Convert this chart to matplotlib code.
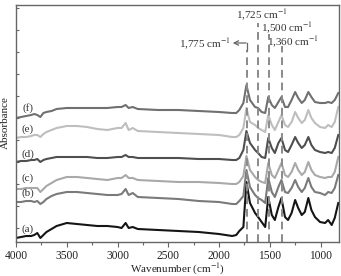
import matplotlib
matplotlib.use("Agg")
import matplotlib.pyplot as plt
from matplotlib.ticker import MultipleLocator, NullFormatter

plt.rcParams['font.family'] = ['Liberation Serif', 'DejaVu Serif']
plt.rcParams['mathtext.fontset'] = 'stix'

wavenumber = [4000, 3950, 3900, 3850, 3820, 3790, 3760, 3730, 3700, 3650,
              3600, 3500, 3400, 3300, 3200, 3100, 3000, 2960, 2920, 2890,
              2850, 2800, 2600, 2400, 2200, 2000, 1870, 1830, 1800, 1760,
              1730, 1695, 1645, 1615, 1580, 1545, 1515, 1480, 1450, 1415,
              1385, 1350, 1320, 1285, 1250, 1220, 1185, 1155, 1120, 1090,
              1055, 1005, 955, 925, 890, 860, 825]

spec_a = [12, 13, 14, 14, 15, 17, 12, 15, 18, 21, 24, 27, 26, 25, 24, 24, 23, 22, 27, 22,
          23, 21, 20, 19, 18, 16, 14, 15, 19, 23, 68, 47, 37, 33, 28, 23, 53, 35, 30, 43,
          52, 33, 30, 37, 50, 42, 35, 38, 52, 40, 33, 28, 27, 30, 25, 32, 47]
spec_b = [48, 48, 49, 49, 48, 49, 46, 48, 51, 54, 56, 58, 58, 57, 56, 55, 55, 56, 61, 55,
          57, 53, 52, 51, 49, 48, 46, 46, 49, 54, 80, 63, 55, 52, 50, 47, 72, 58, 53, 63,
          70, 58, 57, 62, 70, 63, 58, 62, 72, 63, 58, 57, 55, 58, 57, 62, 75]
spec_c = [61, 61, 62, 62, 62, 62, 58, 61, 64, 67, 70, 73, 73, 72, 71, 70, 72, 72, 75, 72,
          72, 70, 69, 68, 68, 67, 66, 66, 68, 74, 94, 80, 73, 70, 68, 67, 87, 75, 72, 80,
          87, 75, 73, 78, 87, 80, 75, 78, 88, 80, 75, 73, 72, 73, 73, 78, 93]
spec_d = [88, 89, 89, 90, 90, 91, 88, 90, 91, 92, 93, 93, 93, 93, 92, 92, 93, 93, 95, 93,
          93, 92, 92, 92, 91, 91, 90, 90, 92, 100, 119, 107, 100, 97, 93, 92, 112, 102, 97, 107,
          112, 100, 98, 105, 113, 107, 102, 105, 113, 105, 100, 98, 97, 98, 97, 102, 115]
spec_e = [112, 113, 113, 114, 115, 115, 113, 116, 118, 120, 122, 124, 124, 123, 121, 120, 122, 122, 127, 120,
          122, 119, 118, 117, 116, 115, 113, 113, 115, 122, 142, 128, 125, 122, 120, 118, 135, 125, 120, 128,
          135, 125, 123, 128, 138, 132, 127, 130, 140, 132, 127, 123, 122, 125, 123, 128, 143]
spec_f = [132, 133, 134, 135, 136, 135, 133, 137, 138, 139, 141, 142, 142, 142, 142, 142, 143, 143, 145, 142,
          143, 141, 140, 140, 139, 138, 137, 137, 140, 147, 165, 150, 143, 142, 138, 137, 153, 145, 142, 148,
          153, 143, 143, 150, 158, 152, 147, 150, 158, 153, 148, 147, 147, 148, 147, 150, 157]

series_labels = ['(a)', '(b)', '(c)', '(d)', '(e)', '(f)']
label_levels = [21, 57, 72, 96, 121, 142]
spectra = [spec_a, spec_b, spec_c, spec_d, spec_e, spec_f]
colors = ['#151515', '#7a7a7a', '#a9a9a9', '#4f4f4f', '#bebebe', '#707070']

marker_positions = [1728, 1619, 1511, 1383]
marker_tops = [200, 227, 216, 204]
marker_texts = ['1,775 cm$^{-1}$', '1,725 cm$^{-1}$', '1,500 cm$^{-1}$', '1,360 cm$^{-1}$']

xticks = [4000, 3500, 3000, 2500, 2000, 1500, 1000]

W, H = 341, 276
fig = plt.figure(figsize=(W / 100, H / 100), dpi=100)
ax = fig.add_axes([16 / W, (H - 242) / H, (339 - 16) / W, (242 - 5) / H])

for spec, col in zip(spectra, colors):
    ax.plot(wavenumber, spec, color=col, lw=1.5, solid_joinstyle='round')

for lab, lev in zip(series_labels, label_levels):
    ax.text(3885, lev, lab, fontsize=8, ha='center', va='center', color='#333333')

for pos, top in zip(marker_positions, marker_tops):
    ax.plot([pos, pos], [8, top], color='#8a8a8a', lw=1.4, ls=(0, (4, 2.5)))

# arrow for first marker
ax.plot([marker_positions[0], marker_positions[0]], [marker_tops[0], 207], color='#666666', lw=0.9)
ax.annotate('', xy=(1865, 207), xytext=(marker_positions[0] + 5, 207),
            arrowprops=dict(arrowstyle='->', color='#666666', lw=0.9, shrinkA=0, shrinkB=0,
                            mutation_scale=8))
ax.text(1880, 206, marker_texts[0], fontsize=8, ha='right', va='center', color='#333333')
ax.text(1580, 235, marker_texts[1], fontsize=8, ha='center', va='center', color='#333333')
ax.text(1583, 221.5, marker_texts[2], fontsize=8, ha='left', va='center', color='#333333')
ax.text(1523, 207.5, marker_texts[3], fontsize=8, ha='left', va='center', color='#333333')

ax.set_xlim(4000, 818)
ax.set_ylim(8, 245)
ax.set_xticks(xticks)
ax.set_xticklabels([str(t) for t in xticks], fontsize=8.3, color='#222222')
ax.xaxis.set_minor_locator(MultipleLocator(250))
ax.yaxis.set_major_locator(MultipleLocator(22))
ax.yaxis.set_major_formatter(NullFormatter())
ax.tick_params(axis='x', which='both', direction='out', color='#666666', width=0.8)
ax.tick_params(axis='y', which='both', direction='in', color='#666666', width=0.8)
ax.tick_params(axis='x', which='major', length=3.5, pad=2)
ax.tick_params(axis='x', which='minor', length=2.5)
ax.tick_params(axis='y', which='major', length=2.5)
for s in ax.spines.values():
    s.set_color('#666666')
    s.set_linewidth(1.0)

fig.text(5 / W, 1 - 123 / H, 'Absorbance', rotation=90, fontsize=8, ha='center', va='center', color='#222222')
fig.text(178 / W, 1 - 269.5 / H, 'Wavenumber (cm$^{-1}$)', fontsize=8, ha='center', va='center', color='#222222')

fig.savefig('out.png', dpi=100)
